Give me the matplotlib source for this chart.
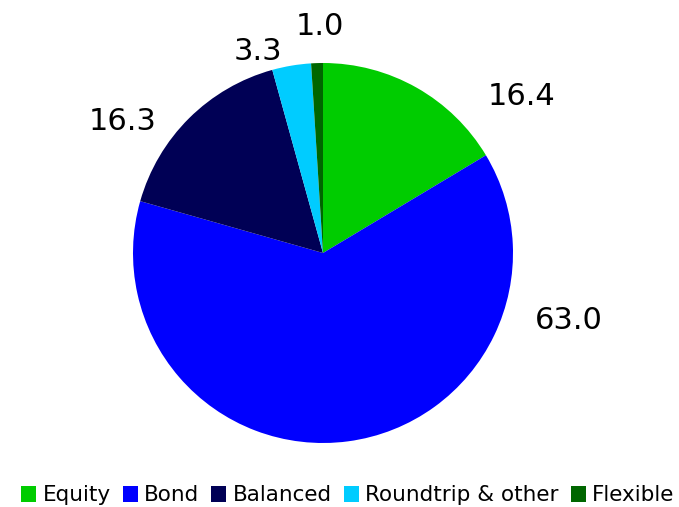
import matplotlib
matplotlib.use("Agg")
import matplotlib.pyplot as plt

categories = ["Equity", "Bond", "Balanced", "Roundtrip & other", "Flexible"]
shares = [16.4, 63.0, 16.3, 3.3, 1.0]
colors = ["#00cc00", "#0000ff", "#000055", "#00ccff", "#006600"]

# label anchors (pie radius = 1)
label_xy = [(1.047, 0.825), (1.295, -0.354), (-1.055, 0.691),
            (-0.342, 1.059), (-0.018, 1.193)]

W, H = 679, 507
cx, cy, r = 323, 253, 190

fig = plt.figure(figsize=(W / 100, H / 100), dpi=100)
ax = fig.add_axes([(cx - r) / W, (H - cy - r) / H, 2 * r / W, 2 * r / H])
wedges, _ = ax.pie(shares, colors=colors, startangle=90, counterclock=False,
                   radius=1.0, wedgeprops={"linewidth": 0})
ax.set_xlim(-1, 1)
ax.set_ylim(-1, 1)
ax.set_aspect("equal")
ax.axis("off")

for v, (x, y) in zip(shares, label_xy):
    ax.text(x, y, f"{v:.1f}", ha="center", va="center", fontsize=22,
            color="black")

fig.legend(wedges, categories, loc="lower center", ncol=5, frameon=False,
           fontsize=15.5, handlelength=0.7, handleheight=0.8,
           handletextpad=0.3, columnspacing=0.55,
           bbox_to_anchor=(0.5125, -0.035))

fig.savefig("out.png", dpi=100)
